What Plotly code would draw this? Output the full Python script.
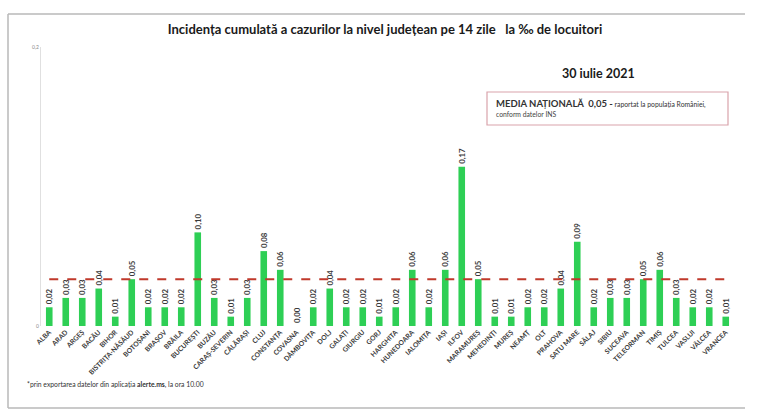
import plotly.graph_objects as go

counties = ["ALBA", "ARAD", "ARGEȘ", "BACĂU", "BIHOR", "BISTRIȚA-NĂSĂUD", "BOTOȘANI", "BRAȘOV",
            "BRĂILA", "BUCUREȘTI", "BUZĂU", "CARAȘ-SEVERIN", "CĂLĂRAȘI", "CLUJ", "CONSTANȚA",
            "COVASNA", "DÂMBOVIȚA", "DOLJ", "GALAȚI", "GIURGIU", "GORJ", "HARGHITA", "HUNEDOARA",
            "IALOMIȚA", "IAȘI", "ILFOV", "MARAMUREȘ", "MEHEDINȚI", "MUREȘ", "NEAMȚ", "OLT",
            "PRAHOVA", "SATU MARE", "SĂLAJ", "SIBIU", "SUCEAVA", "TELEORMAN", "TIMIȘ", "TULCEA",
            "VASLUI", "VÂLCEA", "VRANCEA"]
incidence = [0.02, 0.03, 0.03, 0.04, 0.01, 0.05, 0.02, 0.02, 0.02, 0.10, 0.03, 0.01, 0.03,
             0.08, 0.06, 0.00, 0.02, 0.04, 0.02, 0.02, 0.01, 0.02, 0.06, 0.02, 0.06, 0.17,
             0.05, 0.01, 0.01, 0.02, 0.02, 0.04, 0.09, 0.02, 0.03, 0.03, 0.05, 0.06, 0.03,
             0.02, 0.02, 0.01]
national_avg = 0.05
y_max = 0.298
y_tickvals = [0, y_max]
y_ticktext = ["0", "0,2"]

labels = [f"{v:.2f}".replace(".", ",") for v in incidence]

W, H = 768, 419
L, R, T, B = 41, 34, 47, 93
pw, ph = W - L - R, H - T - B

def px(x):
    return (x - L) / pw

def py(y):
    return (H - B - y) / ph

fig = go.Figure()
fig.add_trace(go.Bar(
    x=counties, y=incidence, text=labels, textposition="outside", textangle=-90,
    constraintext="none", cliponaxis=False,
    textfont=dict(family="Lato", size=7.8, color="#3a3a3a", weight="bold"),
    marker=dict(color="#2ecf55", line=dict(width=0)),
    width=0.4, showlegend=False,
))

fig.add_trace(go.Scatter(
    x=[counties[0], counties[-1]], y=[national_avg, national_avg], mode="lines",
    line=dict(color="#c0392b", width=2, dash="dash"), showlegend=False, hoverinfo="skip",
))

shapes = []
frame = "#b8b8b8"
shapes.append(dict(type="line", xref="paper", yref="paper", x0=px(8), x1=px(745), y0=py(14), y1=py(14),
                   line=dict(color=frame, width=1.5)))
shapes.append(dict(type="line", xref="paper", yref="paper", x0=px(8), x1=px(8), y0=py(14), y1=py(408),
                   line=dict(color=frame, width=1.5)))
shapes.append(dict(type="line", xref="paper", yref="paper", x0=px(8), x1=px(745), y0=py(408), y1=py(408),
                   line=dict(color=frame, width=1.5)))
shapes.append(dict(type="rect", xref="paper", yref="paper", x0=px(487), x1=px(728), y0=py(92), y1=py(125),
                   line=dict(color="#d9a3ab", width=1.2), fillcolor="rgba(0,0,0,0)"))

annotations = [
    dict(text="30 iulie 2021", xref="paper", yref="paper", x=px(598), y=py(73), showarrow=False,
         font=dict(family="Lato", size=12.5, color="#1a1a1a", weight="bold"), xanchor="center", yanchor="middle"),
    dict(text="<b><span style='font-size:9.5px'>MEDIA NAȚIONALĂ  0,05 -</span></b> raportat la populația României,",
         xref="paper", yref="paper", x=px(494), y=py(103), showarrow=False, xanchor="left", yanchor="middle",
         font=dict(family="Lato", size=6.8, color="#333333")),
    dict(text="conform datelor INS", xref="paper", yref="paper", x=px(494), y=py(114), showarrow=False,
         xanchor="left", yanchor="middle", font=dict(family="Lato", size=6.8, color="#444444")),
    dict(text="*prin exportarea datelor din aplicația <b>alerte.ms</b>, la ora 10.00", xref="paper", yref="paper",
         x=px(25), y=py(384), showarrow=False, xanchor="left", yanchor="middle",
         font=dict(family="Lato", size=6.8, color="#333333")),
]

fig.update_layout(
    width=W, height=H, autosize=False,
    margin=dict(l=L, r=R, t=T, b=B),
    paper_bgcolor="white", plot_bgcolor="white",
    title=dict(text="<b>Incidența cumulată a cazurilor la nivel județean pe 14 zile   la ‰ de locuitori</b>",
               x=385 / W, xanchor="center", y=1 - 29 / H, yanchor="middle",
               font=dict(family="Lato", size=13, color="#1a1a1a")),
    bargap=0.6,
    shapes=shapes, annotations=annotations,
    xaxis=dict(type="category", tickangle=-45, showgrid=False, showline=False, ticks="", automargin=False,
               tickfont=dict(family="Lato", size=6.8, color="#3a3a3a", weight="bold"),
               range=[-0.5, len(counties) - 0.5]),
    yaxis=dict(range=[0, y_max], tickvals=y_tickvals, ticktext=y_ticktext, showgrid=False, automargin=False,
               showline=True, linecolor="#e0e0e0", linewidth=1, ticks="", zeroline=False,
               tickfont=dict(family="Lato", size=5, color="#888888")),
)

fig.write_html("out.html", config={"displayModeBar": False},
               post_script="document.body.style.margin='0px';document.body.style.overflow='hidden';")
